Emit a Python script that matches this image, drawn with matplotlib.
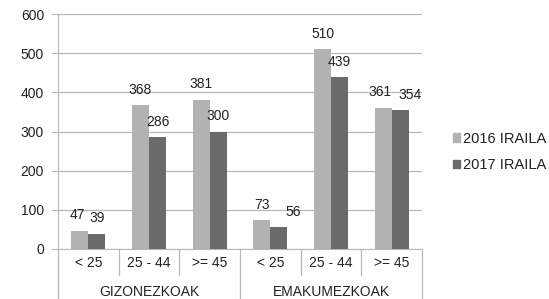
import matplotlib
matplotlib.use("Agg")
import matplotlib.pyplot as plt
import matplotlib.transforms as mtransforms
from matplotlib.patches import Patch

plt.rcParams['font.family'] = ['Liberation Sans', 'DejaVu Sans']

age_labels = ["< 25", "25 - 44", ">= 45", "< 25", "25 - 44", ">= 45"]
group_labels = ["GIZONEZKOAK", "EMAKUMEZKOAK"]
series_names = ["2016 IRAILA", "2017 IRAILA"]
values_2016 = [47, 368, 381, 73, 510, 361]
values_2017 = [39, 286, 300, 56, 439, 354]

col_light = "#b2b2b2"
col_dark = "#6a6a6a"
txt_col = "#222222"
line_col = "#b8b8b8"
fs = 10

# label nudges in pixels, (index, series) -> dx
nudge = {(3, 1): 14, (5, 0): -3, (5, 1): 10, (0, 0): -2}

fig = plt.figure(figsize=(5.49, 2.99), dpi=100)
ax = fig.add_axes([58 / 549, 1 - 249 / 299, (422 - 58) / 549, (249 - 14) / 299])

x = list(range(len(age_labels)))
w = 0.28
b1 = ax.bar([i - w / 2 for i in x], values_2016, w, color=col_light, zorder=3)
b2 = ax.bar([i + w / 2 for i in x], values_2017, w, color=col_dark, zorder=3)

for s, bars in enumerate([b1, b2]):
    for i, r in enumerate(bars):
        dx = nudge.get((i, s), 0) * 72 / 100
        ax.annotate(str(int(r.get_height())),
                    (r.get_x() + r.get_width() / 2, r.get_height()),
                    xytext=(dx, 11), textcoords="offset points",
                    ha="center", va="center", fontsize=fs, color=txt_col)

ax.set_xlim(-0.5, 5.5)
ax.set_ylim(0, 600)
ax.set_yticks(range(0, 601, 100))
ax.yaxis.grid(True, color=line_col, linewidth=0.9, zorder=0)
ax.set_axisbelow(True)
ax.tick_params(axis='y', length=5, color=line_col, labelsize=fs, labelcolor=txt_col, pad=5)
ax.tick_params(axis='x', length=0, labelbottom=False)
for sp in ["top", "right"]:
    ax.spines[sp].set_visible(False)
ax.spines["left"].set_color(line_col)
ax.spines["bottom"].set_color(line_col)

trans = mtransforms.blended_transform_factory(ax.transData, ax.transAxes)
h = 235.0
for xs in [0.5, 1.5, 3.5, 4.5]:
    ax.plot([xs, xs], [0, -26 / h], color=line_col, lw=0.9, transform=trans, clip_on=False)
for xs in [-0.5, 2.5, 5.5]:
    ax.plot([xs, xs], [0, -52 / h], color=line_col, lw=0.9, transform=trans, clip_on=False)

for i, lab in enumerate(age_labels):
    ax.text(i, -14 / h, lab, transform=trans, ha="center", va="center",
            fontsize=fs, color=txt_col)
for g, lab in enumerate(group_labels):
    ax.text(1 + 3 * g, -43 / h, lab, transform=trans, ha="center", va="center",
            fontsize=fs, color=txt_col)

handles = [Patch(color=col_light), Patch(color=col_dark)]
fig.legend(handles, series_names, loc="center left", bbox_to_anchor=(440 / 549, 1 - 152 / 299),
           frameon=False, fontsize=10.5, handlelength=0.5, handleheight=0.5,
           handletextpad=0.2, labelspacing=0.85, labelcolor=txt_col)

fig.savefig("out.png", dpi=100)
